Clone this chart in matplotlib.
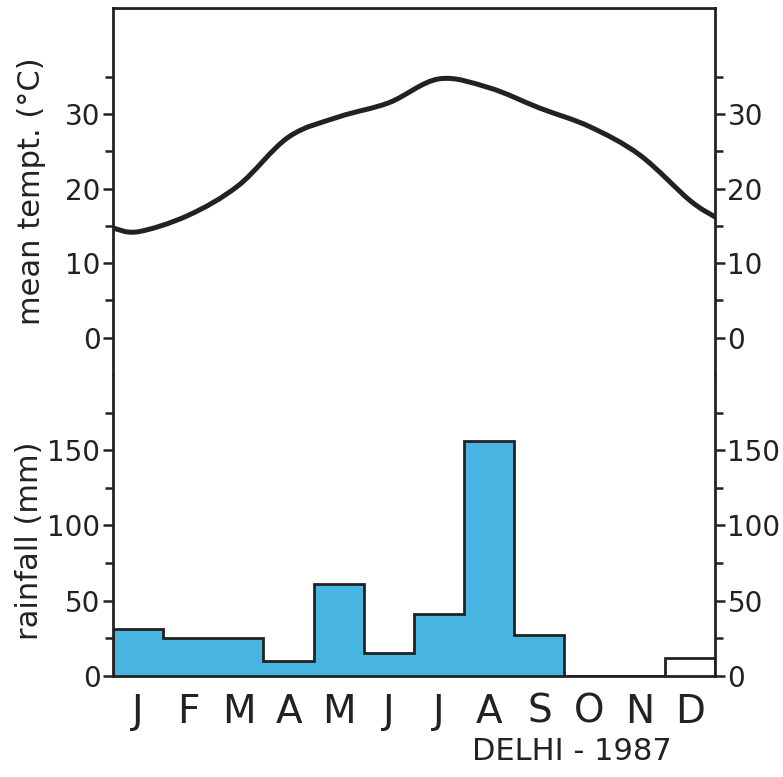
import numpy as np
import matplotlib
matplotlib.use("Agg")
import matplotlib.pyplot as plt
from matplotlib.path import Path
from matplotlib.patches import PathPatch

# Delhi 1987 - monthly mean temperature and rainfall
months = ["J", "F", "M", "A", "M", "J", "J", "A", "S", "O", "N", "D"]
temp = [14.2, 16.4, 20.4, 26.9, 29.6, 31.5, 34.7, 33.5, 30.8, 28.3, 24.5, 18.4]
temp_start = 14.7   # value where the curve meets the left edge
temp_end = 16.2     # value where the curve meets the right edge
rain = [31, 25, 25, 10, 61, 15, 41, 156, 27, 0, 0, 12]

temp_ticks = [0, 10, 20, 30]
rain_ticks = [0, 50, 100, 150]

ink = "#222222"
blue = "#47b4e2"

plt.rcParams["font.family"] = ["DejaVu Sans"]
fig = plt.figure(figsize=(7.83, 7.77), dpi=100)
ax_t = fig.add_axes([0.1443, 0.5174, 0.7688, 0.4723])
ax_r = fig.add_axes([0.1443, 0.1300, 0.7688, 0.3874])

for ax in (ax_t, ax_r):
    ax.set_xlim(0, 12)
    for s in ax.spines.values():
        s.set_linewidth(2.0)
        s.set_color(ink)
    ax.tick_params(axis="y", which="both", direction="out", left=True, right=True,
                   labelleft=True, labelright=True, colors=ink, labelsize=20,
                   width=1.8)
    ax.tick_params(axis="y", which="major", length=7, pad=2)
    ax.tick_params(axis="y", which="minor", length=6)

ax_t.spines["bottom"].set_visible(False)
ax_r.spines["top"].set_visible(False)

# --- temperature (smooth curve through the monthly values) ---
ax_t.set_ylim(-5, 44.2)
ax_t.set_yticks(temp_ticks)
ax_t.set_yticks([5, 15, 25, 35], minor=True)
ax_t.set_xticks([])

xs = np.concatenate([[0], np.arange(12) + 0.5, [12]])
ys = np.concatenate([[temp_start], temp, [temp_end]])
pts = np.column_stack([xs, ys])
verts = [pts[0]]
codes = [Path.MOVETO]
for i in range(len(pts) - 1):
    p0 = pts[max(i - 1, 0)]
    p1 = pts[i]
    p2 = pts[i + 1]
    p3 = pts[min(i + 2, len(pts) - 1)]
    verts += [p1 + (p2 - p0) / 6, p2 - (p3 - p1) / 6, p2]
    codes += [Path.CURVE4] * 3
ax_t.add_patch(PathPatch(Path(verts, codes), fill=False, lw=3.6, color=ink,
                         capstyle="round", joinstyle="round"))
ax_t.set_ylabel("mean tempt. (°C)", fontsize=22, color=ink)
ax_t.yaxis.set_label_coords(-0.112, 0.5)

# --- rainfall ---
ax_r.set_ylim(0, 200)
ax_r.set_yticks(rain_ticks)
ax_r.set_yticks([25, 75, 125, 175], minor=True)
centers = np.arange(12) + 0.5
fills = [blue] * 11 + ["white"]
ax_r.bar(centers, rain, width=1.0, color=fills, edgecolor="none", zorder=1)
ax_r.stairs(rain, np.arange(13), baseline=0, color=ink, lw=2.0, zorder=2)
ax_r.set_xticks(centers)
ax_r.set_xticklabels(months, fontsize=28, color=ink)
ax_r.tick_params(axis="x", length=0, pad=12)
ax_r.set_ylabel("rainfall (mm)", fontsize=22, color=ink)
ax_r.yaxis.set_label_coords(-0.115, 0.45)

fig.text(0.731, 0.033, "DELHI - 1987", fontsize=22, color=ink,
         ha="center", va="center")

fig.savefig("out.png", dpi=100)
